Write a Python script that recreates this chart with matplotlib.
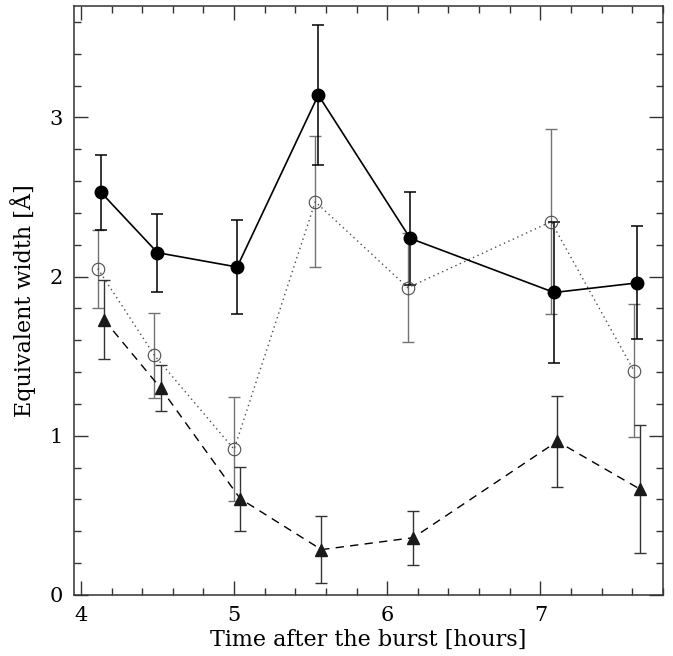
import numpy as np
import matplotlib.pyplot as plt
from matplotlib.ticker import MultipleLocator

# filled circles (solid line)
t_fill = [4.13, 4.50, 5.02, 5.55, 6.15, 7.09, 7.63]
ew_fill = [2.53, 2.15, 2.06, 3.14, 2.24, 1.90, 1.96]
err_fill = [0.235, 0.245, 0.295, 0.44, 0.29, 0.44, 0.355]

# open circles (dotted line)
t_open = [4.11, 4.48, 5.00, 5.53, 6.135, 7.07, 7.61]
ew_open = [2.05, 1.505, 0.915, 2.47, 1.93, 2.345, 1.41]
err_open = [0.245, 0.267, 0.327, 0.41, 0.342, 0.58, 0.42]

# triangles (dashed line)
t_tri = [4.15, 4.52, 5.04, 5.57, 6.17, 7.11, 7.65]
ew_tri = [1.73, 1.30, 0.605, 0.285, 0.36, 0.965, 0.665]
err_tri = [0.25, 0.147, 0.2, 0.21, 0.17, 0.286, 0.40]

plt.rcParams['font.family'] = ['DejaVu Serif']

fig = plt.figure(figsize=(6.73, 6.56), dpi=100)
ax = fig.add_axes([0.110, 0.093, 0.875, 0.898])

# error bars
ax.errorbar(t_open, ew_open, yerr=err_open, fmt='none', ecolor='0.45',
            elinewidth=1.0, capsize=4.5, capthick=1.0, linestyle=(0, (1, 1)))
ax.errorbar(t_tri, ew_tri, yerr=err_tri, fmt='none', ecolor='0.2',
            elinewidth=1.0, capsize=4.5, capthick=1.0)
ax.errorbar(t_fill, ew_fill, yerr=err_fill, fmt='none', ecolor='black',
            elinewidth=1.1, capsize=4.5, capthick=1.1)

# lines
ax.plot(t_open, ew_open, color='0.3', lw=1.0, linestyle=(0, (1, 2.5)))
ax.plot(t_tri, ew_tri, color='black', lw=1.0, linestyle=(0, (6, 4.5)))
ax.plot(t_fill, ew_fill, color='black', lw=1.2, linestyle='-')

# markers
ax.plot(t_open, ew_open, 'o', markersize=9, markerfacecolor='none',
        markeredgecolor='0.3', markeredgewidth=0.8, linestyle='none')
ax.plot(t_tri, ew_tri, '^', markersize=9, color='0.1', linestyle='none')
ax.plot(t_fill, ew_fill, 'o', markersize=9, color='black', linestyle='none')

ax.set_xlim(3.955, 7.8)
ax.set_ylim(0, 3.7)
ax.xaxis.set_major_locator(MultipleLocator(1))
ax.xaxis.set_minor_locator(MultipleLocator(0.2))
ax.yaxis.set_major_locator(MultipleLocator(1))
ax.yaxis.set_minor_locator(MultipleLocator(0.2))
ax.tick_params(which='both', direction='in', top=True, right=True,
               labelsize=15, pad=8, width=1.0, color='0.2')
ax.tick_params(which='major', length=10)
ax.tick_params(which='minor', length=5)
for s in ax.spines.values():
    s.set_linewidth(1.1)
    s.set_color('0.2')

ax.set_xlabel('Time after the burst [hours]', fontsize=16, labelpad=3)
ax.set_ylabel('Equivalent width [Å]', fontsize=16, labelpad=10)

plt.savefig('out.png', dpi=100)
